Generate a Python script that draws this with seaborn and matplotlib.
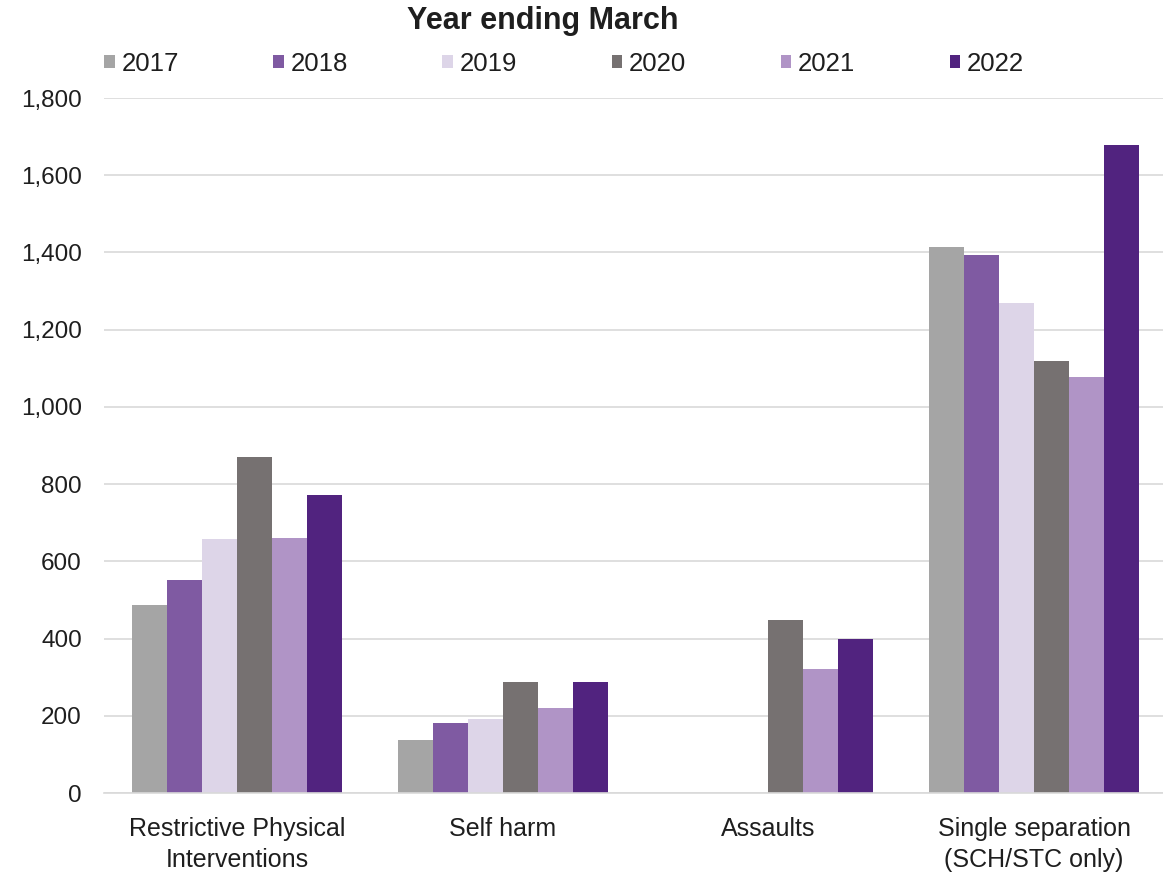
import matplotlib
matplotlib.use("Agg")
import matplotlib.pyplot as plt
import seaborn as sns
import pandas as pd
import numpy as np

categories = ["Restrictive Physical\nInterventions", "Self harm", "Assaults",
              "Single separation\n(SCH/STC only)"]
years = ["2017", "2018", "2019", "2020", "2021", "2022"]
values_2017 = [487, 137, np.nan, 1414]
values_2018 = [552, 181, np.nan, 1393]
values_2019 = [658, 192, np.nan, 1269]
values_2020 = [870, 288, 448, 1119]
values_2021 = [660, 221, 321, 1077]
values_2022 = [772, 288, 399, 1678]
colors = ["#A5A5A5", "#7F5AA2", "#DDD5E8", "#767171", "#B094C6", "#51237F"]

series = [values_2017, values_2018, values_2019, values_2020, values_2021, values_2022]
rows = []
for yr, vals in zip(years, series):
    for cat, v in zip(categories, vals):
        rows.append({"Category": cat, "Year": yr, "Count": v})
df = pd.DataFrame(rows)

sns.set_theme(style="white")
plt.rcParams["font.family"] = ["Liberation Sans", "DejaVu Sans"]
text_color = "#1E1E1E"

W, H = 1163, 873
fig = plt.figure(figsize=(W / 100, H / 100), dpi=100)
ax = fig.add_axes([104 / W, 1 - 793 / H, 1063 / W, 695 / H])

sns.barplot(data=df, x="Category", y="Count", hue="Year", hue_order=years,
            palette=colors, width=0.79, dodge=True, ax=ax, legend=True,
            saturation=1, linewidth=0)

ax.set_ylim(0, 1800)
ax.set_xlim(-0.5, 3.5)
ax.set_yticks(range(0, 1801, 200))
ax.yaxis.set_major_formatter(matplotlib.ticker.FuncFormatter(lambda v, p: f"{int(v):,}"))
ax.grid(axis="y", color="#D9D9D9", linewidth=1.2)
ax.set_axisbelow(True)
for s in ["top", "right", "left"]:
    ax.spines[s].set_visible(False)
ax.spines["bottom"].set_color("#D9D9D9")
ax.spines["bottom"].set_linewidth(1.2)
ax.tick_params(axis="both", length=0, colors=text_color)
ax.tick_params(axis="y", pad=16, labelsize=17.5)
ax.tick_params(axis="x", pad=17, labelsize=18)
for lbl in ax.get_xticklabels():
    lbl.set_linespacing(1.38)
ax.set_xlabel("")
ax.set_ylabel("")

handles, labels = ax.get_legend_handles_labels()
ax.get_legend().remove()
fig.legend(handles, labels, loc="center left", ncol=6,
           bbox_to_anchor=(81 / W, 1 - 64 / H), frameon=False,
           fontsize=18.5, handlelength=0.42, handleheight=0.42,
           handletextpad=0.25, columnspacing=3.68, labelcolor=text_color)

fig.text(543 / W, 1 - 21 / H, "Year ending March", ha="center", va="center",
         fontsize=22, fontweight="bold", color=text_color)

fig.savefig("out.png", dpi=100, facecolor="white")
